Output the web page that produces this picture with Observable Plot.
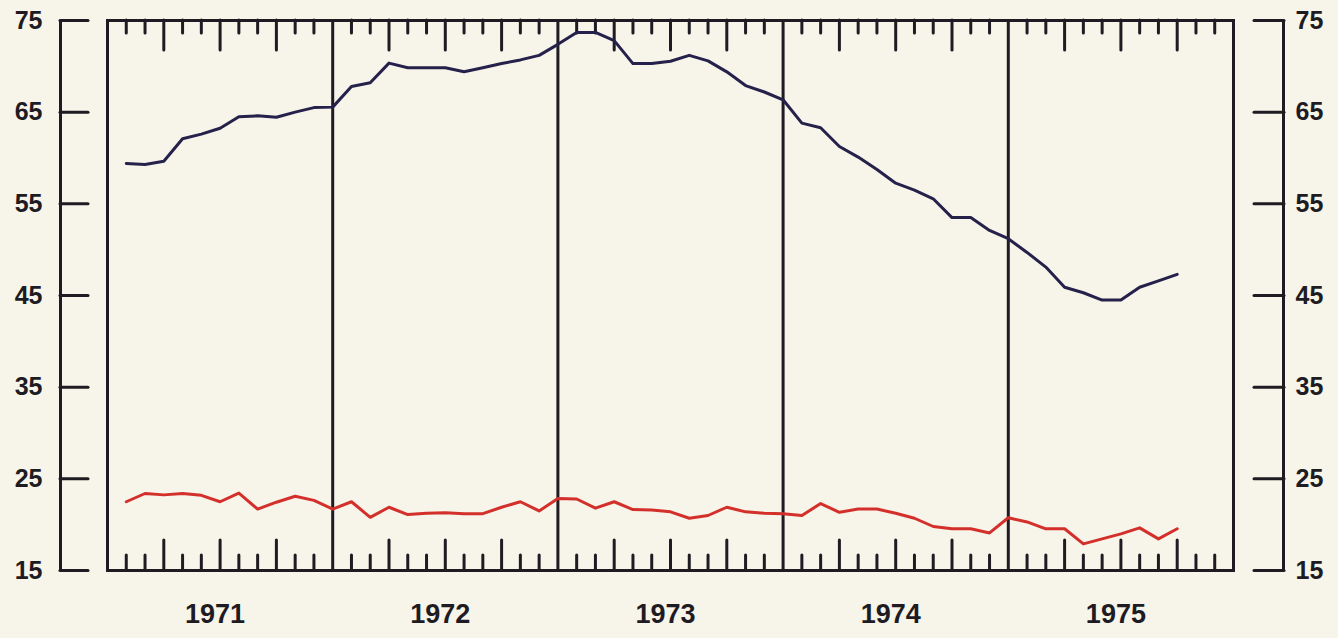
<!DOCTYPE html>
<html>
<head>
<meta charset="utf-8">
<script src="https://cdn.jsdelivr.net/npm/d3@7"></script>
<script src="https://cdn.jsdelivr.net/npm/@observablehq/plot@0.6"></script>
<style>
  html, body { margin: 0; padding: 0; background: #f7f4ea; }
  #chart svg { display: block; }
</style>
</head>
<body>
<div id="chart"></div>
<script>
// Monthly series, Jan 1971 (month 1) through Sep 1975 (month 57)
const blueSeries = [
  59.4, 59.3, 59.65, 62.1, 62.6, 63.25, 64.5, 64.6, 64.45, 65.0, 65.5, 65.55,
  67.8, 68.2, 70.35, 69.85, 69.85, 69.85, 69.4, 69.85, 70.3, 70.7, 71.2, 72.4,
  73.7, 73.7, 72.8, 70.3, 70.3, 70.55, 71.2, 70.6, 69.4, 67.9, 67.2, 66.35,
  63.8, 63.3, 61.25, 60.1, 58.75, 57.25, 56.5, 55.55, 53.5, 53.5, 52.1, 51.2,
  49.7, 48.1, 45.9, 45.3, 44.5, 44.5, 45.9, 46.6, 47.3
];
const redSeries = [
  22.5, 23.4, 23.25, 23.4, 23.2, 22.5, 23.45, 21.7, 22.45, 23.1, 22.65, 21.7,
  22.5, 20.8, 21.9, 21.1, 21.25, 21.3, 21.2, 21.2, 21.9, 22.5, 21.5, 22.85,
  22.8, 21.8, 22.5, 21.65, 21.6, 21.4, 20.7, 21.0, 21.9, 21.4, 21.25, 21.2,
  21.0, 22.3, 21.35, 21.7, 21.7, 21.25, 20.7, 19.8, 19.55, 19.55, 19.1, 20.75,
  20.3, 19.55, 19.55, 17.9, 18.45, 19.0, 19.65, 18.45, 19.55
];
const years = [1971, 1972, 1973, 1974, 1975];
const yTicks = [15, 25, 35, 45, 55, 65, 75];

const monthsPerYear = 12;
const totalMonths = years.length * monthsPerYear;
const yearBoundaries = years.slice(1).map((y, i) => (i + 1) * monthsPerYear);
const monthTicks = d3.range(1, totalMonths).filter(m => m % monthsPerYear !== 0);
const shortTicks = monthTicks.filter(m => m % 3 !== 0);
const longTicks = monthTicks.filter(m => m % 3 === 0);

const toRows = s => s.map((v, i) => ({month: i + 1, value: v}));
const blueRows = toRows(blueSeries);
const redRows = toRows(redSeries);

const ink = "#1e1c22";
const font = "Liberation Sans, Arial, sans-serif";

const chart = Plot.plot({
  width: 1338,
  height: 638,
  marginLeft: 107,
  marginRight: 105,
  marginTop: 20,
  marginBottom: 68,
  x: {domain: [0, totalMonths], axis: null},
  y: {domain: [15, 75], label: null},
  style: {background: "#f7f4ea", fontFamily: font, color: ink},
  marks: [
    // left and right value axes, set outside the frame
    Plot.ruleX([0], {dx: -47, stroke: ink, strokeWidth: 3}),
    Plot.ruleX([totalMonths], {dx: 50, stroke: ink, strokeWidth: 3}),
    Plot.axisY(yTicks, {anchor: "left", tickSize: 28, dx: -19, tickPadding: 18, label: null,
      stroke: ink, fill: ink, strokeWidth: 3, strokeLinecap: "round",
      fontSize: 25, fontWeight: "bold", tickFormat: d => String(d)}),
    Plot.axisY(yTicks, {anchor: "right", tickSize: 30, dx: 20, tickPadding: 12, label: null,
      stroke: ink, fill: ink, strokeWidth: 3, strokeLinecap: "round",
      fontSize: 25, fontWeight: "bold", tickFormat: d => String(d)}),
    // month ticks inside the frame, top and bottom
    Plot.tickX(shortTicks, {x: d => d, insetBottom: 537, stroke: ink, strokeWidth: 3, strokeLinecap: "round"}),
    Plot.tickX(longTicks, {x: d => d, insetBottom: 520, stroke: ink, strokeWidth: 3, strokeLinecap: "round"}),
    Plot.tickX(shortTicks, {x: d => d, insetTop: 535, stroke: ink, strokeWidth: 3, strokeLinecap: "round"}),
    Plot.tickX(longTicks, {x: d => d, insetTop: 520, stroke: ink, strokeWidth: 3, strokeLinecap: "round"}),
    // year dividers
    Plot.ruleX(yearBoundaries, {stroke: ink, strokeWidth: 3}),
    // year labels
    Plot.text(years, {x: (d, i) => i * monthsPerYear + monthsPerYear / 2, frameAnchor: "bottom",
      dy: 52, dx: -5, text: d => String(d), fontSize: 27, fontWeight: "bold", fill: ink}),
    // series
    Plot.lineY(redRows, {x: "month", y: "value", stroke: "#d3302b", strokeWidth: 3,
      strokeLinejoin: "round", strokeLinecap: "round"}),
    Plot.lineY(blueRows, {x: "month", y: "value", stroke: "#25214a", strokeWidth: 3,
      strokeLinejoin: "round", strokeLinecap: "round"}),
    Plot.frame({stroke: ink, strokeWidth: 3})
  ]
});
document.getElementById("chart").appendChild(chart);
</script>
</body>
</html>
